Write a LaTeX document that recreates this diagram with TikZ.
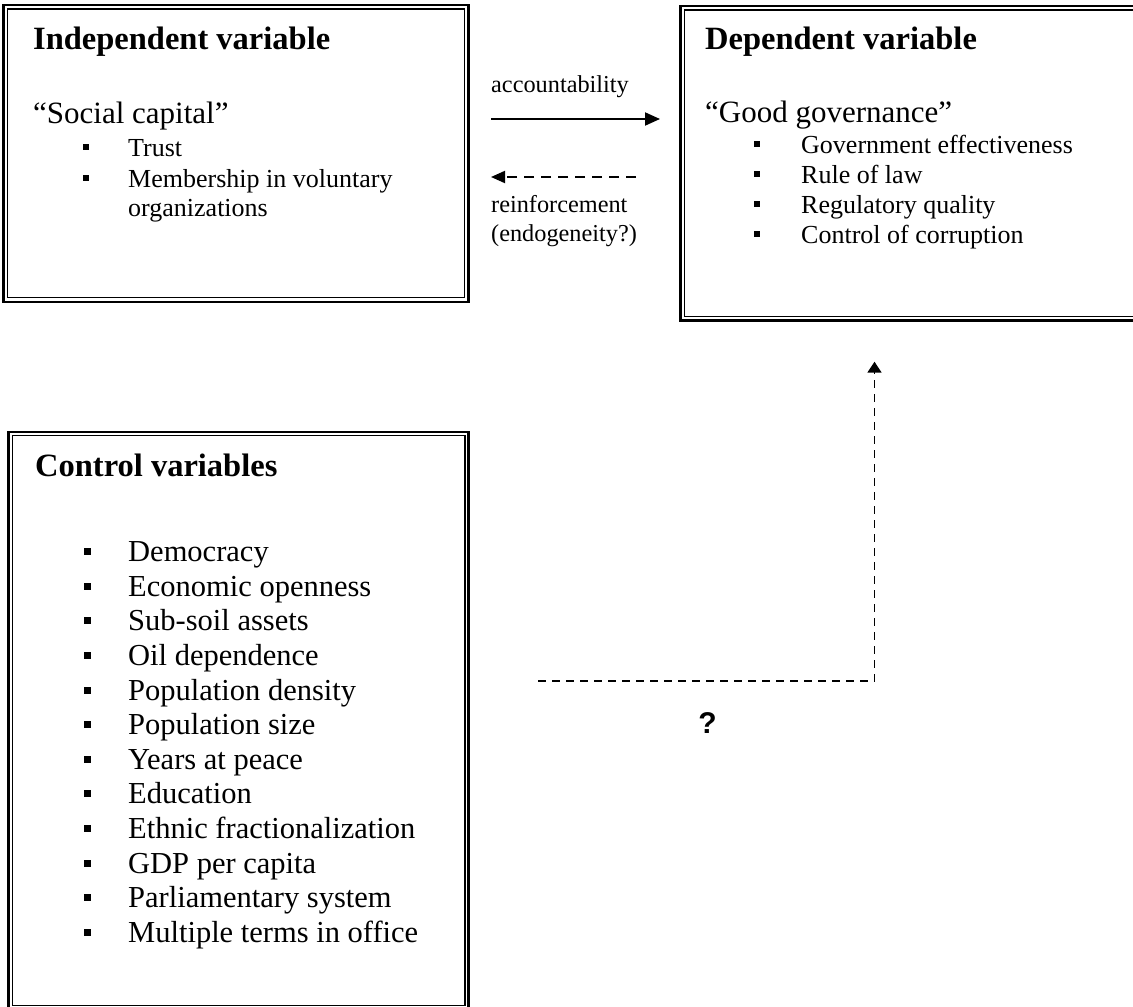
\documentclass[tikz,border=0pt]{standalone}
\usepackage{fontspec}
\setmainfont{Liberation Serif}
\newfontfamily\qfont{Liberation Sans}
\usepackage{tikz}
\usetikzlibrary{calc}
\usetikzlibrary{arrows.meta}

\begin{document}
\begin{tikzpicture}[x=1pt,y=-1pt,
   box/.style={draw,line width=2.6pt,inner sep=0pt,outer sep=0pt,anchor=north west},
   inbox/.style={line width=1.3pt},
   head/.style={anchor=base west,inner sep=0pt,font=\fontsize{32.5}{38}\selectfont\bfseries},
   sub/.style={anchor=base west,inner sep=0pt,font=\fontsize{31}{36}\selectfont},
   item/.style={anchor=base west,inner sep=0pt,font=\fontsize{26}{30}\selectfont},
   bigitem/.style={item,font=\fontsize{30.5}{34}\selectfont},
   bul/.style={fill,inner sep=0pt,minimum size=5.5pt},
   bigbul/.style={bul,minimum size=7pt},
   lab/.style={anchor=base west,inner sep=0pt,font=\fontsize{24.3}{28}\selectfont},
   conn/.style={line width=2pt,-{Triangle[length=15pt,width=13pt]}}]
\useasboundingbox (0,0) rectangle (1133,1007);

% boxes
\node[box,minimum width=465.5pt,minimum height=297pt] (indep) at (3.2,4.8) {};
\draw[inbox] ($(indep.north west)+(4.3,4.3)$) rectangle ($(indep.south east)+(-4.3,-4.3)$);
\node[box,minimum width=465pt,minimum height=314.7pt] (dep) at (680.7,6) {};
\draw[inbox] ($(dep.north west)+(4,4)$) rectangle ($(dep.south east)+(-4,-4)$);
\node[box,minimum width=460pt,minimum height=577pt] (ctrl) at (8.7,432) {};
\draw[inbox] ($(ctrl.north west)+(3.8,3.8)$) rectangle ($(ctrl.south east)+(-3.8,-3.8)$);

% independent variable
\node[head] (indep-h) at (33,49) {Independent variable};
\node[sub] (indep-s) at (33,123) {``Social capital''};
\node[item] (i1) at (128,156) {Trust};
\node[item] (i2) at (128,187) {Membership in voluntary};
\node[item] (i2b) at (128,216) {organizations};
\foreach \n in {i1,i2}
  \node[bul] at ([xshift=-42pt,yshift=9pt]\n.base west) {};

% dependent variable
\node[head] (dep-h) at (705,49) {Dependent variable};
\node[sub] (dep-s) at (705,122) {``Good governance''};
\foreach \t [count=\i] in {Government effectiveness,Rule of law,Regulatory quality,Control of corruption}{
  \node[item] (d\i) at (801,{123+30*\i}) {\t};
  \node[bul] at ([xshift=-44pt,yshift=9pt]d\i.base west) {};
}

% control variables
\node[head] (ctrl-h) at (35,476) {Control variables};
\foreach \t [count=\i] in {Democracy,Economic openness,Sub-soil assets,Oil dependence,Population density,Population size,Years at peace,Education,Ethnic fractionalization,GDP per capita,Parliamentary system,Multiple terms in office}{
  \node[bigitem] (c\i) at (128,{527+34.6*\i}) {\t};
  \node[bigbul] at ([xshift=-41pt,yshift=10pt]c\i.base west) {};
}

% connectors
\node[lab] (acc) at (491,92) {accountability};
\coordinate (acc-from) at (491,119);
\coordinate (acc-to) at (660,119);
\draw[conn] (acc-from) -- (acc-to);

\node[lab] (rein) at (491,212) {reinforcement};
\node[lab] (endo) at (491,241) {(endogeneity?)};
\coordinate (rein-from) at (636,177);
\coordinate (rein-to) at (491,177);
\draw[conn,dash pattern=on 10pt off 7pt,-{Triangle[length=14pt,width=12pt]}] (rein-from) -- (rein-to);

\coordinate (q-from) at (538,681);
\coordinate (q-bend) at (874.5,681);
\coordinate (q-to) at ([yshift=-41pt]dep.south -| q-bend);
\draw[dash pattern=on 8pt off 6pt,line width=1.7pt,-{Triangle[length=11pt,width=14pt]}] (q-from) -- (q-bend) -- (q-to);
\node[font=\qfont\bfseries\fontsize{30}{34}\selectfont] (qm) at (707.5,723.5) {?};
\end{tikzpicture}
\end{document}
